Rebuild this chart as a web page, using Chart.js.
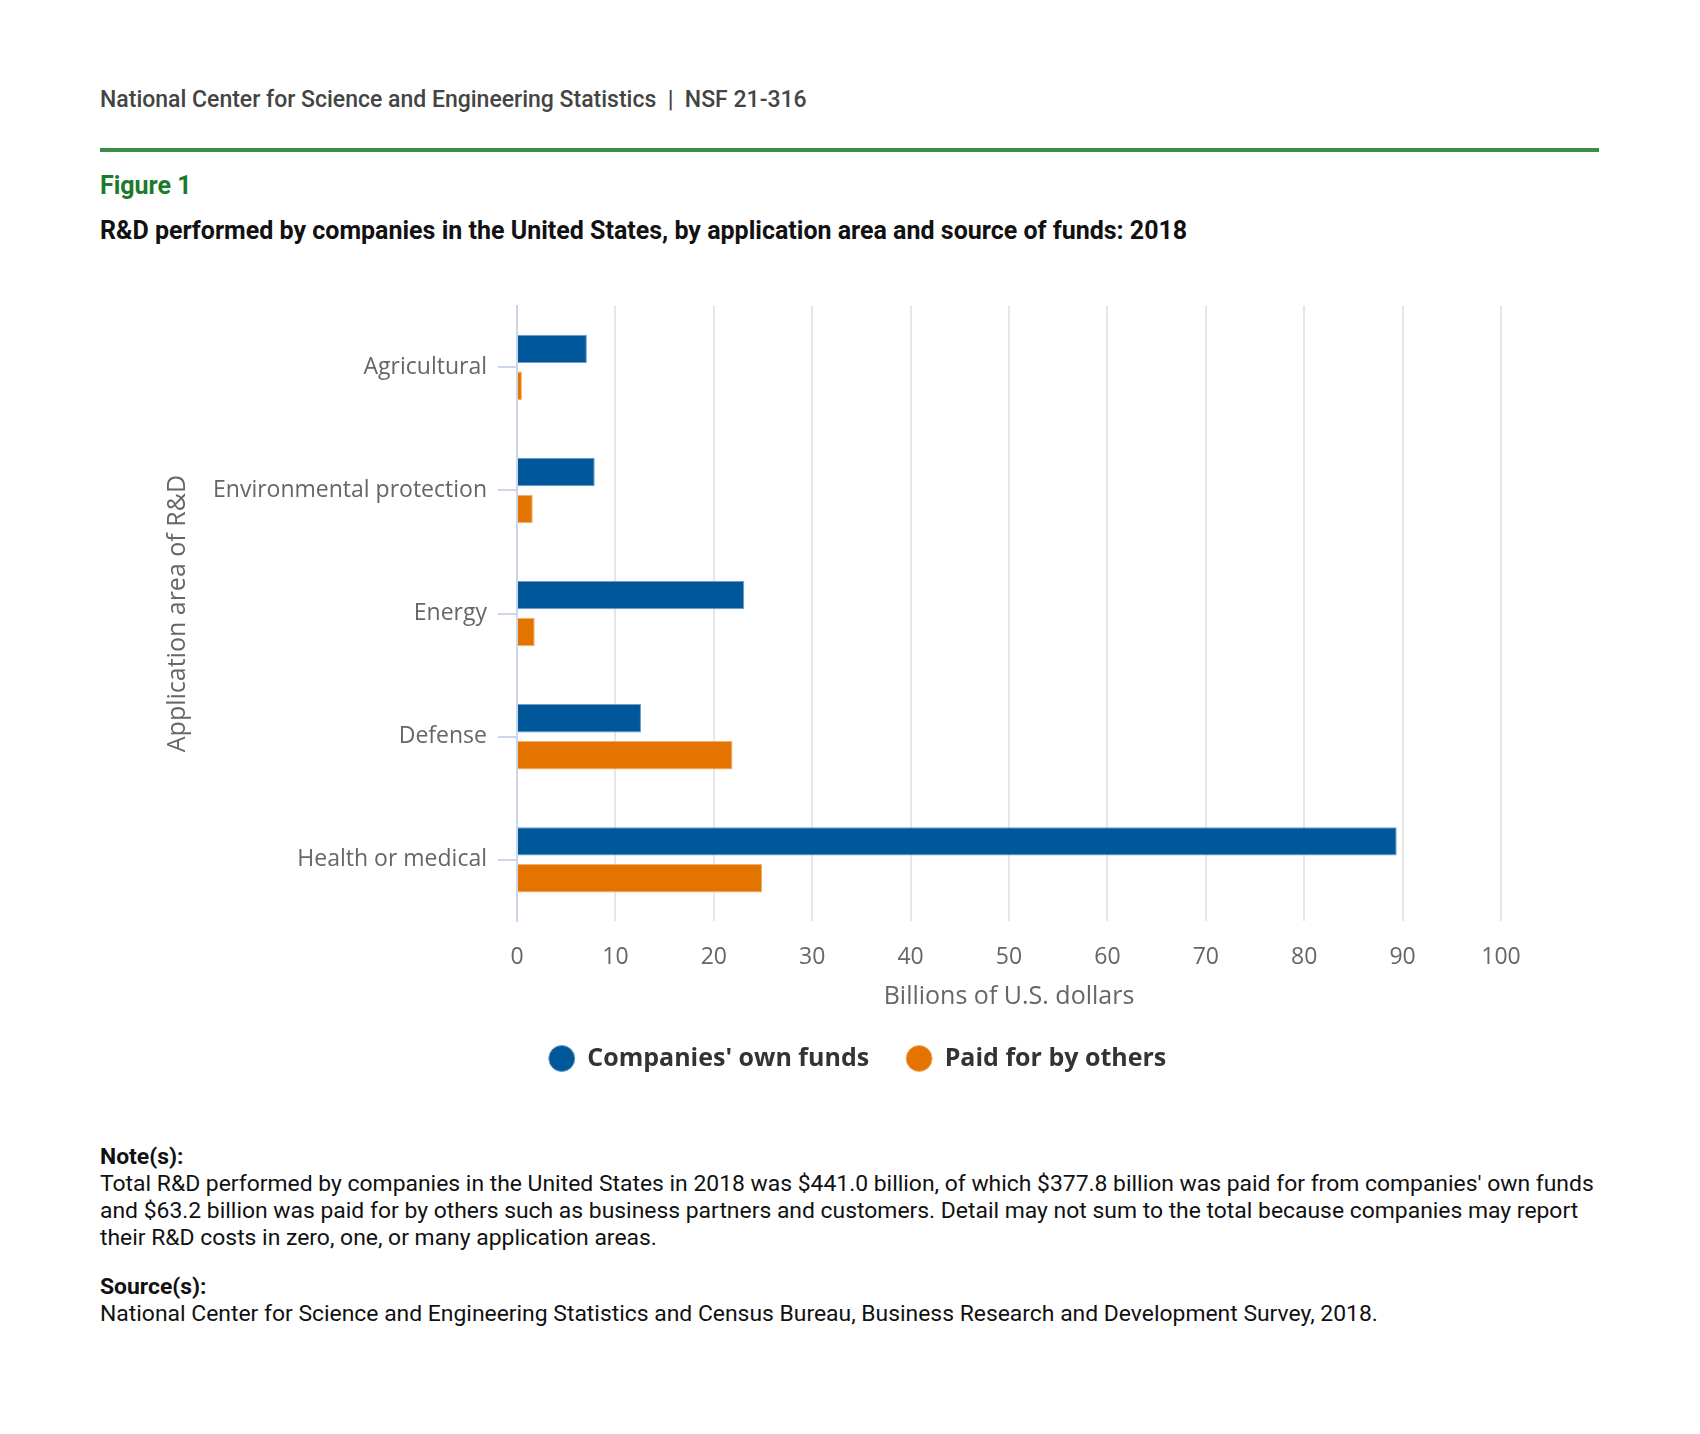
<!DOCTYPE html>
<html>
<head>
<meta charset="utf-8">
<script src="https://cdn.jsdelivr.net/npm/chart.js@4.4.1/dist/chart.umd.min.js"></script>
<style>
  body { margin: 0; background: #fff; width: 1700px; height: 1434px; position: relative; font-family: Roboto, sans-serif; }
  .abs { position: absolute; left: 100px; white-space: nowrap; }
  #hdr { top: 87px; font-size: 23px; line-height: 26px; color: #444; font-weight: 500; }
  #rule { position: absolute; left: 100px; top: 148px; width: 1499px; height: 4px; background: #3a8c48; }
  #fig { top: 172px; font-size: 25px; line-height: 28px; color: #1b7a2c; font-weight: 700; }
  #ttl { top: 217px; font-size: 25px; line-height: 28px; color: #111; font-weight: 700; }
  #notes { top: 1143px; font-size: 22.9px; line-height: 27px; color: #111; }
  #notes b { font-weight: 700; }
  #chartBox { position: absolute; left: 150px; top: 281px; width: 1422px; height: 800px; }
</style>
</head>
<body>
<div id="hdr" class="abs">National Center for Science and Engineering Statistics &nbsp;|&nbsp; NSF 21-316</div>
<div id="rule"></div>
<div id="fig" class="abs">Figure 1</div>
<div id="ttl" class="abs">R&amp;D performed by companies in the United States, by application area and source of funds: 2018</div>
<div id="chartBox"><canvas id="chart"></canvas></div>
<div id="notes" class="abs">
<b>Note(s):</b><br>
Total R&amp;D performed by companies in the United States in 2018 was $441.0 billion, of which $377.8 billion was paid for from companies' own funds<br>
and $63.2 billion was paid for by others such as business partners and customers. Detail may not sum to the total because companies may report<br>
their R&amp;D costs in zero, one, or many application areas.<br>
<div style="height:22px"></div>
<b>Source(s):</b><br>
National Center for Science and Engineering Statistics and Census Bureau, Business Research and Development Survey, 2018.
</div>
<script>
var categories = ["Agricultural", "Environmental protection", "Energy", "Defense", "Health or medical"];
var seriesNames = ["Companies' own funds", "Paid for by others"];
var ownFunds = [7.1, 7.9, 23.1, 12.6, 89.4];
var paidByOthers = [0.5, 1.6, 1.8, 21.9, 24.9];
var xMin = 0;
var xMax = 100;
var xStep = 10;

var blue = "#00589b";
var orange = "#e37400";
var axisGray = "#666666";

// nudge the legend so it sits where the original one is (centred on the page, not the plot)
var legendShift = {
  id: "legendShift",
  afterLayout: function(chart) {
    if (chart.legend) {
      chart.legend.left += 32;
      chart.legend.right += 32;
    }
  }
};

function main() {
  var chart = new Chart("chart", {
    type: "bar",
    data: {
      labels: categories,
      datasets: [{
        label: seriesNames[0],
        data: ownFunds,
        backgroundColor: blue,
        borderColor: "#6d9dc8",
        borderWidth: 1,
        categoryPercentage: 0.6,
        barPercentage: 0.77
      }, {
        label: seriesNames[1],
        data: paidByOthers,
        backgroundColor: orange,
        borderColor: "#f2b06a",
        borderWidth: 1,
        categoryPercentage: 0.6,
        barPercentage: 0.77
      }]
    },
    plugins: [legendShift],
    options: {
      indexAxis: "y",
      responsive: true,
      maintainAspectRatio: false,
      animation: false,
      devicePixelRatio: 1,
      layout: { autoPadding: false, padding: { top: 16, right: 71, left: 0, bottom: 0 } },
      plugins: {
        tooltip: { enabled: false },
        legend: {
          position: "bottom",
          labels: {
            usePointStyle: true,
            pointStyle: "circle",
            pointStyleWidth: 26,
            boxHeight: 18.4,
            padding: 37,
            color: "#333",
            font: { family: "'Open Sans'", size: 25, weight: "bold" }
          }
        }
      },
      scales: {
        x: {
          min: xMin,
          max: xMax,
          border: { display: false },
          grid: {
            drawTicks: false,
            lineWidth: 2,
            color: function(ctx) { return ctx.tick && ctx.tick.value === 0 ? "rgba(0,0,0,0)" : "#e6e6e6"; }
          },
          ticks: {
            stepSize: xStep,
            padding: 22,
            color: axisGray,
            font: { family: "'Open Sans'", size: 23 }
          },
          title: {
            display: true,
            text: "Billions of U.S. dollars",
            color: axisGray,
            padding: { top: -11, bottom: -3 },
            font: { family: "'Open Sans'", size: 25 }
          }
        },
        y: {
          border: { display: true, color: "#ccd6eb", width: 2 },
          grid: {
            offset: false,
            drawOnChartArea: false,
            drawTicks: true,
            tickLength: 19,
            lineWidth: 2,
            color: "#ccd6eb"
          },
          ticks: {
            padding: 11,
            color: axisGray,
            font: { family: "'Open Sans'", size: 23 }
          },
          title: {
            display: true,
            text: "Application area of R&D",
            color: axisGray,
            padding: { top: 13, bottom: 0 },
            font: { family: "'Open Sans'", size: 25 }
          },
          afterFit: function(scale) { scale.width = 367; }
        }
      }
    }
  });
}

main();
</script>
</body>
</html>
